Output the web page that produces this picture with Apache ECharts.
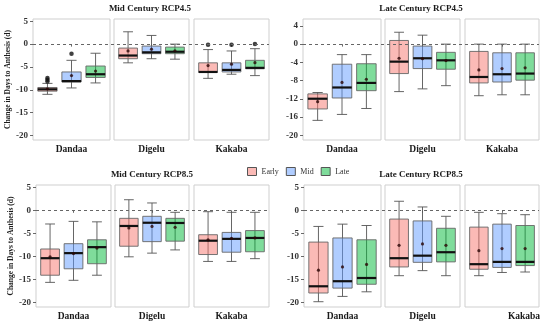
<!DOCTYPE html>
<html><head><meta charset="utf-8">
<script src="https://cdn.jsdelivr.net/npm/echarts@6/dist/echarts.min.js"></script>
<style>html,body{margin:0;padding:0;background:#fff}#c{width:550px;height:327px}</style>
</head><body><div id="c"></div>
<script>
const sites = ['Dandaa', 'Digelu', 'Kakaba'];
const periods = ['Early', 'Mid', 'Late'];
const facetTitles = ['Mid Century RCP4.5', 'Late Century RCP4.5', 'Mid Century RCP8.5', 'Late Century RCP8.5'];
const yTicksMid45 = [5, 0, -5, -10, -15, -20];
const yTicksLate45 = [4, 0, -4, -8, -12, -16, -20];
const yTicksMid85 = [5, 0, -5, -10, -15, -20];
const yTicksLate85 = [5, 0, -5, -10, -15, -20];
const yAxisTitle = 'Change in Days to Anthesis (d)';

// box stats per site (Dandaa, Digelu, Kakaba), per period (Early, Mid, Late):
// [lower whisker, Q1, median, Q3, upper whisker]
const midRcp45Box = [
  [[-11.0, -10.3, -9.9, -9.5, -8.6], [-9.6, -8.3, -8.1, -6.1, -3.55], [-8.5, -7.3, -6.6, -4.8, -2.0]],
  [[-4.1, -3.2, -2.5, -0.87, 2.7], [-3.2, -2.1, -1.8, -0.43, 1.9], [-3.3, -2.1, -1.67, -0.65, 0]],
  [[-7.5, -6.2, -6.1, -4.1, -1.2], [-6.6, -6.1, -5.65, -4.1, -1.5], [-6.9, -5.4, -5.2, -3.55, -1.0]]
];
const midRcp45Mean = [[-9.8, -6.9, -5.9], [-1.5, -1.1, -1.45], [-4.7, -4.4, -4.06]];
const midRcp45Out = [[[-7.4, -7.8, -8.2], [-2.1], []], [[], [], []], [[-0.15], [-0.15], [0]]];

const lateRcp45Box = [
  [[-16.7, -14.2, -11.96, -10.9, -10.6], [-15.4, -11.8, -9.5, -4.4, -2.3], [-14.1, -10.2, -8.5, -4.3, -2.3]],
  [[-10.4, -6.45, -3.84, 0.8, 2.6], [-9.8, -5.36, -3.1, -0.43, 1.96], [-9.1, -5.5, -3.55, -1.8, 0]],
  [[-11.3, -8.5, -7.2, -1.6, 0], [-11.1, -8.3, -6.6, -1.9, 0], [-11.1, -7.9, -6.45, -1.9, 0]]
];
const lateRcp45Mean = [[-12.6, -8.4, -7.7], [-3.1, -3.2, -3.6], [-5.65, -5.36, -5.2]];
const lateRcp45Out = [[[], [], []], [[], [], []], [[], [], []]];

const midRcp85Box = [
  [[-15.65, -14.1, -10.4, -8.4, -2.97], [-15.2, -12.7, -9.3, -7.25, -2.4], [-14.1, -11.6, -8.0, -6.4, -2.5]],
  [[-10.1, -7.8, -3.4, -1.74, 2.3], [-9.3, -6.8, -2.7, -1.3, 1.6], [-8.6, -6.7, -2.75, -1.74, -0.43]],
  [[-11.1, -9.6, -6.6, -5.3, -0.3], [-11.1, -9.1, -6.2, -4.8, -0.43], [-10.5, -9.0, -6.0, -4.4, -0.43]]
];
const midRcp85Mean = [[-10.1, -9.4, -8.2], [-3.84, -3.5, -3.7], [-6.4, -6.1, -6.0]];
const midRcp85Out = [[[], [], []], [[], [], []], [[], [], []]];

const lateRcp85Box = [
  [[-19.85, -17.96, -16.5, -6.9, -3.5], [-18.7, -16.9, -15.4, -6.0, -3.0], [-17.7, -16.06, -14.7, -6.4, -3.3]],
  [[-14.2, -12.3, -10.4, -1.9, 1.97], [-13.1, -11.3, -9.85, -2.3, 0.73], [-14.2, -11.2, -9.1, -3.9, -1.3]],
  [[-14.2, -12.8, -11.7, -3.65, -0.44], [-13.5, -12.4, -11.2, -3.0, -0.73], [-13.4, -12.0, -11.2, -3.3, -0.95]]
];
const lateRcp85Mean = [[-13.0, -12.3, -11.75], [-7.6, -7.3, -7.6], [-8.76, -8.3, -8.3]];
const lateRcp85Out = [[[], [], []], [[], [], []], [[], [], []]];

// ---- layout (pixels) ----
const facets = [
  {box: midRcp45Box, mean: midRcp45Mean, out: midRcp45Out, ticks: yTicksMid45, lefts: [33, 114, 194], widths: [77, 75, 75], top: 19, height: 121, title: [150, 4.5], yName: true},
  {box: lateRcp45Box, mean: lateRcp45Mean, out: lateRcp45Out, ticks: yTicksLate45, lefts: [303, 385, 465], widths: [78, 75, 74], top: 19, height: 121, title: [421, 4.5], yName: false},
  {box: midRcp85Box, mean: midRcp85Mean, out: midRcp85Out, ticks: yTicksMid85, lefts: [36, 115, 194], widths: [75, 74, 75], top: 185, height: 122, title: [152, 170.5], yName: true},
  {box: lateRcp85Box, mean: lateRcp85Mean, out: lateRcp85Out, ticks: yTicksLate85, lefts: [304, 385, 465], widths: [77, 75, 74], top: 185, height: 122, title: [421, 170.5], yName: false}
];

const fills = {Early: 'rgba(248,118,109,0.5)', Mid: 'rgba(97,156,255,0.5)', Late: 'rgba(0,186,56,0.5)'};
const SERIF = '"Liberation Serif","Times New Roman",serif';
const Y_MIN = -21, Y_MAX = 5.5;

function makeRender(fill) {
  return function (params, api) {
    const x = api.value(0);
    const lo = api.coord([x, api.value(1)]);
    const q1 = api.coord([x, api.value(2)]);
    const md = api.coord([x, api.value(3)]);
    const q3 = api.coord([x, api.value(4)]);
    const hi = api.coord([x, api.value(5)]);
    const w = api.size([0.8, 0], [x, 0])[0];
    const cap = api.size([0.42, 0], [x, 0])[0];
    const cx = lo[0];
    const st = {stroke: '#555', lineWidth: 0.9};
    return {type: 'group', children: [
      {type: 'line', shape: {x1: cx, y1: hi[1], x2: cx, y2: lo[1]}, style: st},
      {type: 'line', shape: {x1: cx - cap / 2, y1: hi[1], x2: cx + cap / 2, y2: hi[1]}, style: st},
      {type: 'line', shape: {x1: cx - cap / 2, y1: lo[1], x2: cx + cap / 2, y2: lo[1]}, style: st},
      {type: 'rect', shape: {x: cx - w / 2, y: q3[1], width: w, height: q1[1] - q3[1]}, style: {fill: fill, stroke: '#666', lineWidth: 0.9}},
      {type: 'line', shape: {x1: cx - w / 2, y1: md[1], x2: cx + w / 2, y2: md[1]}, style: {stroke: '#111', lineWidth: 2.2}}
    ]};
  };
}

const grid = [], xAxis = [], yAxis = [], series = [], title = [];
facets.forEach((f, fi) => {
  title.push({text: facetTitles[fi], left: f.title[0], top: f.title[1], textAlign: 'center', padding: 0,
    textStyle: {fontFamily: SERIF, fontWeight: 'bold', fontSize: 9, color: '#1a1a1a'}});
  sites.forEach((site, si) => {
    const gi = grid.length;
    grid.push({left: f.lefts[si], top: f.top, width: f.widths[si], height: f.height, show: true,
      borderColor: '#cfcfcf', borderWidth: 1, backgroundColor: 'transparent', containLabel: false});
    const nts = {fontFamily: SERIF, fontWeight: 'bold', fontSize: 9.5, color: '#1a1a1a'};
    if (fi === 3 && si === 2) nts.padding = [0, 0, 0, 44];
    xAxis.push({gridIndex: gi, type: 'value', min: 0.4, max: 3.6, show: true,
      name: site, nameLocation: 'middle', nameGap: 5, nameTextStyle: nts,
      axisLine: {show: false}, axisLabel: {show: false}, splitLine: {show: false},
      axisTick: {show: true, customValues: [2], length: 2.5, lineStyle: {color: '#444', width: 0.8}}});
    const ya = {gridIndex: gi, type: 'value', min: Y_MIN, max: Y_MAX,
      axisLine: {show: false}, splitLine: {show: false},
      axisTick: {show: si === 0, customValues: f.ticks, length: 3, lineStyle: {color: '#444', width: 0.8}},
      axisLabel: {show: si === 0, customValues: f.ticks, margin: 5, fontFamily: SERIF, fontWeight: 'bold', fontSize: 9, color: '#333'}};
    if (si === 0 && f.yName) {
      Object.assign(ya, {name: yAxisTitle, nameLocation: 'middle', nameGap: 21, nameRotate: 90,
        nameTextStyle: {fontFamily: SERIF, fontWeight: 'bold', fontSize: 7.5, color: '#1a1a1a'}});
    }
    yAxis.push(ya);
    periods.forEach((p, pi) => {
      const b = f.box[si][pi];
      series.push({type: 'custom', name: p, xAxisIndex: gi, yAxisIndex: gi,
        itemStyle: {color: fills[p], borderColor: '#555'},
        renderItem: makeRender(fills[p]),
        encode: {x: 0, y: [1, 2, 3, 4, 5]},
        data: [[pi + 1, b[0], b[1], b[2], b[3], b[4]]], silent: true});
    });
    // outliers
    const outData = [];
    periods.forEach((p, pi) => f.out[si][pi].forEach(v => outData.push([pi + 1, v])));
    series.push({type: 'scatter', xAxisIndex: gi, yAxisIndex: gi, data: outData, symbolSize: 4.5,
      itemStyle: {color: '#111'}, silent: true, z: 4});
    // means
    series.push({type: 'scatter', xAxisIndex: gi, yAxisIndex: gi,
      data: f.mean[si].map((v, pi) => [pi + 1, v]), symbolSize: 3.2,
      itemStyle: {color: '#2a0606'}, silent: true, z: 5});
  });
  // row grid for the dashed zero line spanning the facet
  const gi = grid.length;
  const l = f.lefts[0], r = f.lefts[2] + f.widths[2];
  grid.push({left: l, top: f.top, width: r - l, height: f.height, show: false});
  xAxis.push({gridIndex: gi, type: 'value', min: 0, max: 1, show: false});
  yAxis.push({gridIndex: gi, type: 'value', min: Y_MIN, max: Y_MAX, show: false});
  series.push({type: 'line', xAxisIndex: gi, yAxisIndex: gi, data: [], silent: true, z: 6,
    markLine: {silent: true, symbol: 'none', label: {show: false},
      lineStyle: {type: [3, 3], color: '#666', width: 1}, data: [{yAxis: 0}]}});
});

const chart = echarts.init(document.getElementById('c'), null, {renderer: 'canvas'});
chart.setOption({
  animation: false,
  backgroundColor: '#fff',
  title: title,
  legend: {left: 242, top: 162, itemWidth: 9, itemHeight: 8, itemGap: 7, selectedMode: false,
    textStyle: {fontFamily: SERIF, fontSize: 8, color: '#333'},
    data: periods.map(p => ({name: p, icon: 'rect', itemStyle: {color: fills[p], borderColor: '#555', borderWidth: 1}}))},
  grid: grid, xAxis: xAxis, yAxis: yAxis, series: series
});
</script></body></html>
